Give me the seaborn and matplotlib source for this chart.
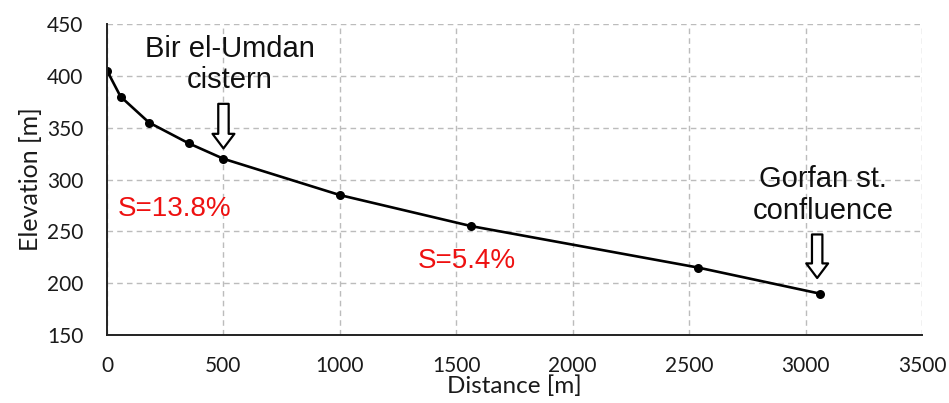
import matplotlib
matplotlib.use("Agg")
import matplotlib.pyplot as plt
import seaborn as sns
import pandas as pd

# Data
distance_m = [0, 58, 180, 350, 500, 1000, 1565, 2540, 3060]
elevation_m = [405, 380, 355, 335, 320, 285, 255, 215, 190]
x_ticks = [0, 500, 1000, 1500, 2000, 2500, 3000, 3500]
y_ticks = [150, 200, 250, 300, 350, 400, 450]
slope_labels = ["S=13.8%", "S=5.4%"]
site_labels = ["Bir el-Umdan\ncistern", "Gorfan st.\nconfluence"]
site_x = [500, 3060]

sns.set_theme(style="white")
plt.rcParams['font.family'] = ['Lato', 'DejaVu Sans']

df = pd.DataFrame({"Distance [m]": distance_m, "Elevation [m]": elevation_m})

fig = plt.figure(figsize=(9.49, 4.03), dpi=100)
ax = fig.add_axes([0.1128, 0.1687, 0.8587, 0.7717])

sns.lineplot(data=df, x="Distance [m]", y="Elevation [m]", ax=ax, color="black",
             linewidth=1.9, marker="o", markersize=6.5, markeredgewidth=0,
             markerfacecolor="black", sort=False)

ax.set_xlim(0, 3500)
ax.set_ylim(150, 450)
ax.set_xticks(x_ticks)
ax.set_yticks(y_ticks)
ax.tick_params(axis="both", length=0, labelsize=15, colors="#1a1a1a")
ax.tick_params(axis="y", pad=17)
ax.tick_params(axis="x", pad=15)
ax.grid(True, linestyle=(0, (4, 3)), color="#bcbcbc", linewidth=1.0)
ax.set_axisbelow(True)
for s in ["top", "right"]:
    ax.spines[s].set_visible(False)
for s in ["left", "bottom"]:
    ax.spines[s].set_color("#222222")
    ax.spines[s].set_linewidth(1.4)
ax.set_xlabel("Distance [m]", fontsize=17.5, color="#1a1a1a", labelpad=0)
ax.set_ylabel("Elevation [m]", fontsize=18, color="#1a1a1a", labelpad=4)

ann_font = ['Liberation Sans', 'DejaVu Sans']
# Site annotations with hollow arrows
ax.text(528, 411, site_labels[0], ha="center", va="center", fontsize=21,
        family=ann_font, linespacing=1.12, color="#111111")
ax.text(3075, 285, site_labels[1], ha="center", va="center", fontsize=21,
        family=ann_font, linespacing=1.15, color="#111111")

arrow_style = "simple,head_length=0.7,head_width=1.05,tail_width=0.5"
ax.annotate("", xy=(site_x[0], 330), xytext=(site_x[0], 373),
            arrowprops=dict(arrowstyle=arrow_style, fc="white", ec="black",
                            lw=1.6, shrinkA=0, shrinkB=0, mutation_scale=15))
ax.annotate("", xy=(site_x[1] - 10, 205), xytext=(site_x[1] - 10, 247),
            arrowprops=dict(arrowstyle=arrow_style, fc="white", ec="black",
                            lw=1.6, shrinkA=0, shrinkB=0, mutation_scale=15))

ax.text(292, 272, slope_labels[0], ha="center", va="center", fontsize=20,
        family=ann_font, color="#ee1111")
ax.text(1546, 221, slope_labels[1], ha="center", va="center", fontsize=20,
        family=ann_font, color="#ee1111")

fig.savefig("out.png", dpi=100)
